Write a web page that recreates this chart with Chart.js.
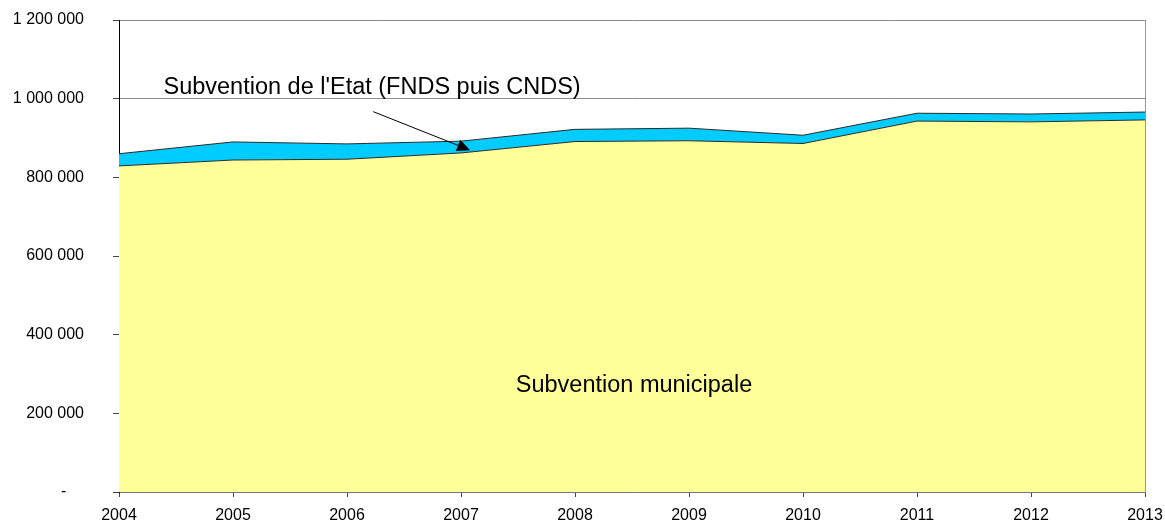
<!DOCTYPE html>
<html>
<head>
<meta charset="utf-8">
<script src="https://cdn.jsdelivr.net/npm/chart.js@4"></script>
<style>
  html, body { margin: 0; padding: 0; background: #fff; }
  canvas { display: block; }
</style>
</head>
<body>
<canvas id="subChart" width="1165" height="520"></canvas>
<script>
// data
const years = ["2004", "2005", "2006", "2007", "2008", "2009", "2010", "2011", "2012", "2013"];
const municipale = [829000, 844000, 846000, 862000, 891000, 893000, 886000, 943000, 941000, 946000];
const etat = [31000, 46000, 39000, 30000, 31000, 32000, 21000, 20000, 20000, 20000];
const yMax = 1200000;
const yStep = 200000;

const labelMunicipale = "Subvention municipale";
const labelEtat = "Subvention de l'Etat (FNDS puis CNDS)";

const fontFamily = "'Liberation Sans', Arial, sans-serif";

function formatTick(n) {
    if (n === 0) return "-\u2007\u2007";
    return String(n).replace(/\B(?=(\d{3})+(?!\d))/g, " ");
}

// text labels and arrow, placed in data units
const annotations = {
    id: "annotations",
    afterDraw(chart) {
        let ctx = chart.ctx;
        let xs = chart.scales.x;
        let ys = chart.scales.y;
        let step = xs.getPixelForValue(1) - xs.getPixelForValue(0);

        ctx.save();
        ctx.fillStyle = "#000";
        ctx.font = "23.5px " + fontFamily;
        ctx.textBaseline = "alphabetic";

        // municipal label in the middle of the yellow area
        ctx.textAlign = "center";
        let area = chart.chartArea;
        ctx.fillText(labelMunicipale, (area.left + area.right) / 2 + 2, ys.getPixelForValue(254000));

        // state label above, with arrow to the blue band
        ctx.textAlign = "left";
        let lx = xs.getPixelForValue(0) + step * 0.39;
        ctx.fillText(labelEtat, lx, ys.getPixelForValue(1012000));

        let x0 = xs.getPixelForValue(2) + step * 0.23;
        let y0 = ys.getPixelForValue(967000);
        let x1 = xs.getPixelForValue(3) + step * 0.08;
        let y1 = ys.getPixelForValue(869000);
        let ang = Math.atan2(y1 - y0, x1 - x0);
        let headLen = 13, headW = 6;
        let bx = x1 - headLen * Math.cos(ang);
        let by = y1 - headLen * Math.sin(ang);

        ctx.strokeStyle = "#000";
        ctx.lineWidth = 1;
        ctx.beginPath();
        ctx.moveTo(x0, y0);
        ctx.lineTo(bx, by);
        ctx.stroke();

        ctx.beginPath();
        ctx.moveTo(x1, y1);
        ctx.lineTo(bx + headW * Math.sin(ang), by - headW * Math.cos(ang));
        ctx.lineTo(bx - headW * Math.sin(ang), by + headW * Math.cos(ang));
        ctx.closePath();
        ctx.fill();
        ctx.restore();
    }
};

let ctx = document.getElementById("subChart").getContext("2d");

let subChart = new Chart(ctx, {
    type: "line",
    data: {
        labels: years,
        datasets: [{
            label: labelMunicipale,
            data: municipale,
            fill: "origin",
            backgroundColor: "#FFFF99",
            borderColor: "#2a2a2a",
            borderWidth: 1,
            pointRadius: 0,
            tension: 0
        }, {
            label: labelEtat,
            data: etat,
            fill: "-1",
            backgroundColor: "#00CCFF",
            borderColor: "#2a2a2a",
            borderWidth: 1,
            pointRadius: 0,
            tension: 0
        }]
    },
    options: {
        responsive: false,
        animation: false,
        devicePixelRatio: 1,
        layout: { padding: { top: 20, right: 20, left: 0, bottom: 0 } },
        plugins: {
            legend: { display: false },
            tooltip: { enabled: false }
        },
        scales: {
            x: {
                offset: false,
                border: { display: true, color: "#777" },
                grid: {
                    color: c => c.index === years.length - 1 ? "#999" : "rgba(0,0,0,0)",
                    tickColor: "#444",
                    tickLength: 5
                },
                ticks: {
                    color: "#000",
                    font: { family: fontFamily, size: 16 },
                    padding: 9,
                    maxRotation: 0,
                    autoSkip: false
                },
                afterFit: scale => {
                    scale.height = 28;
                    scale.paddingLeft = 0;
                    scale.paddingRight = 0;
                }
            },
            y: {
                stacked: true,
                min: 0,
                max: yMax,
                border: { display: true, color: "#000" },
                grid: {
                    color: "#8c8c8c",
                    tickColor: "#444",
                    tickLength: 6
                },
                ticks: {
                    stepSize: yStep,
                    color: "#000",
                    font: { family: fontFamily, size: 16 },
                    padding: 29,
                    callback: v => formatTick(v)
                },
                afterFit: scale => {
                    scale.width = 119;
                    scale.paddingTop = 0;
                    scale.paddingBottom = 0;
                }
            }
        }
    },
    plugins: [annotations]
});
</script>
</body>
</html>
